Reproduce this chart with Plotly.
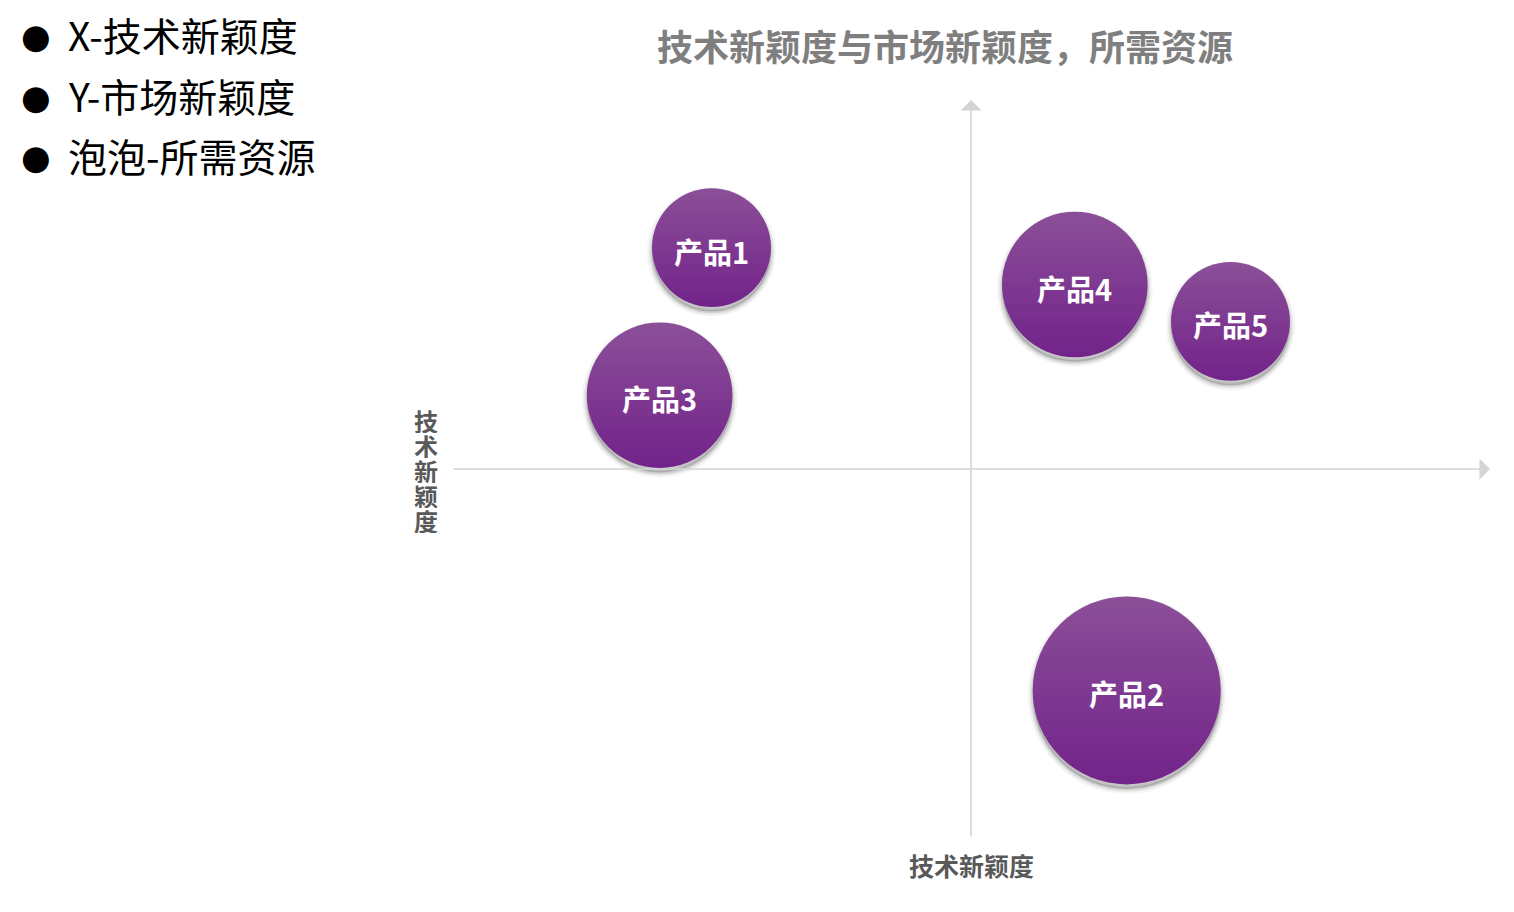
import plotly.graph_objects as go

# ---- data ----
products = ["产品1", "产品2", "产品3", "产品4", "产品5"]
tech_novelty = [-5, 3, -6, 2, 5]        # x
market_novelty = [6, -6, 2, 5, 4]       # y
resources = [20, 50, 30, 30, 20]        # bubble size

title_text = "技术新颖度与市场新颖度，所需资源"
axis_label = "技术新颖度"
legend_lines = ["X-技术新颖度", "Y-市场新颖度", "泡泡-所需资源"]

CJK = "Noto Sans CJK SC, Microsoft YaHei, sans-serif"
sizeref = 2.0 * max(resources) / (188 ** 2)

fig = go.Figure()

# soft shadow layers
for w, a in [(10, 0.04), (6, 0.06), (3, 0.09)]:
    fig.add_trace(go.Scatter(
        x=tech_novelty, y=[v - 0.12 for v in market_novelty],
        mode="markers", hoverinfo="skip", showlegend=False,
        marker=dict(size=resources, sizemode="area", sizeref=sizeref,
                    color=f"rgba(0,0,0,{a})", opacity=1,
                    line=dict(width=w, color=f"rgba(0,0,0,{a})")),
    ))

fig.add_trace(go.Scatter(
    x=tech_novelty, y=market_novelty, mode="markers",
    text=products, hoverinfo="text",
    showlegend=False,
    marker=dict(size=resources, sizemode="area", sizeref=sizeref,
                color="#8b4f98", opacity=1,
                gradient=dict(type="vertical", color="#72238a"),
                line=dict(width=0)),
))

axis_color = "#d4d4d4"
annotations = [
    # x axis arrow
    dict(x=10, y=0, ax=-10, ay=0, xref="x", yref="y", axref="x", ayref="y",
         text="", showarrow=True, arrowhead=1, arrowsize=2.2, arrowwidth=1.6,
         arrowcolor=axis_color),
    # y axis arrow
    dict(x=0, y=10, ax=0, ay=-10, xref="x", yref="y", axref="x", ayref="y",
         text="", showarrow=True, arrowhead=1, arrowsize=2.2, arrowwidth=1.6,
         arrowcolor=axis_color),
    # title
    dict(x=945 / 1514, y=1 - 45 / 912, xref="paper", yref="paper",
         xanchor="center", yanchor="middle",
         text=f"<b>{title_text}</b>", showarrow=False,
         font=dict(family=CJK, size=36, color="#7f7f7f")),
    # bottom axis label
    dict(x=0, y=-10, xref="x", yref="y", yshift=-27, xanchor="center", yanchor="middle",
         text=f"<b>{axis_label}</b>",
         showarrow=False, font=dict(family=CJK, size=25, color="#595959")),
]
# bubble labels
for px, py, name in zip(tech_novelty, market_novelty, products):
    annotations.append(dict(x=px, y=py, xref="x", yref="y", yshift=-3,
                            xanchor="center", yanchor="middle",
                            text=f"<b>{name}</b>", showarrow=False,
                            font=dict(family=CJK, size=29, color="white")))
# vertical axis label, stacked characters
for i, ch in enumerate(axis_label):
    annotations.append(dict(
        x=426 / 1514, y=0, xref="paper", yref="y", yshift=-(i - 2) * 25 - 1,
        xanchor="center", yanchor="middle", height=25, valign="middle",
        text=f"<b>{ch}</b>", showarrow=False,
        font=dict(family=CJK, size=24, color="#595959")))

# top-left bullet list
for i, line in enumerate(legend_lines):
    yc = 1 - (36 + i * 60.5) / 912
    annotations.append(dict(x=36 / 1514, y=yc, xref="paper", yref="paper",
                            xanchor="center", yanchor="middle",
                            text="●", showarrow=False,
                            font=dict(family="DejaVu Sans", size=34, color="black")))
    annotations.append(dict(x=66 / 1514, y=yc, xref="paper", yref="paper",
                            xanchor="left", yanchor="middle", text=line, showarrow=False,
                            yshift=2,
                            font=dict(family=CJK, size=39, color="black")))

fig.update_layout(
    width=1514, height=912,
    margin=dict(l=0, r=0, t=0, b=0),
    paper_bgcolor="white", plot_bgcolor="white",
    xaxis=dict(range=[-10, 10], domain=[452 / 1514, 1490 / 1514],
               visible=False, fixedrange=True),
    yaxis=dict(range=[-10, 10], domain=[1 - 838 / 912, 1 - 100 / 912],
               visible=False, fixedrange=True),
    annotations=annotations,
)

fig.write_html("out.html", config={"displayModeBar": False},
               post_script="document.body.style.margin='0';document.body.style.overflow='hidden';")
